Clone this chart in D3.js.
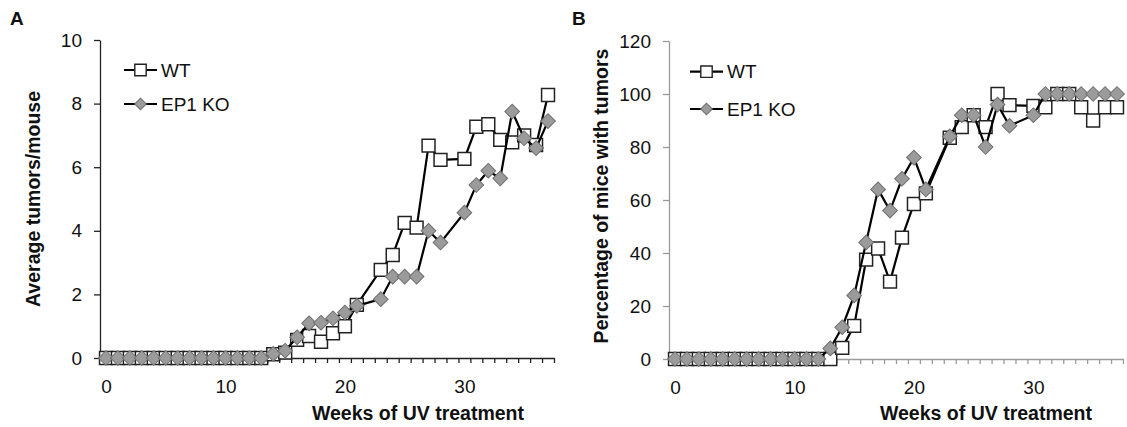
<!DOCTYPE html>
<html>
<head>
<meta charset="utf-8">
<script src="https://cdn.jsdelivr.net/npm/d3@7/dist/d3.min.js"></script>
<style>
  html, body { margin: 0; padding: 0; background: #fff; }
  svg { display: block; font-family: "Liberation Sans", Arial, sans-serif; }
</style>
</head>
<body>
<svg id="chart" width="1127" height="427"></svg>
<script>
// Weeks of UV exposure (categories on the x axis)
const weeks = [0,1,2,3,4,5,6,7,8,9,10,11,12,13,14,15,16,17,18,19,20,21,22,23,24,25,26,27,28,29,30,31,32,33,34,35,36,37];
const xTickLabels = [0, 10, 20, 30];

// Panel A: average tumors per mouse (null = no measurement that week)
const tumorsWT = [0,0,0,0,0,0,0,0,0,0,0,0,0,0,
  0.12,0.17,0.57,0.69,0.51,0.78,1.0,1.67,null,2.77,3.24,4.25,4.1,6.68,6.23,null,6.26,7.27,7.35,6.86,6.78,7.0,6.7,8.27];
const tumorsKO = [0,0,0,0,0,0,0,0,0,0,0,0,0,0,
  0.13,0.23,0.65,1.09,1.11,1.25,1.43,1.64,null,1.85,2.56,2.56,2.56,4.0,3.63,null,4.57,5.44,5.89,5.65,7.75,6.91,6.6,7.45];
const tumorTicks = [0, 2, 4, 6, 8, 10];

// Panel B: percentage of mice bearing tumors
const incidenceWT = [0,0,0,0,0,0,0,0,0,0,0,0,0,0,
  4.2,12.5,37.5,41.7,29.2,45.8,58.5,62.5,null,83.5,87.5,92,87.5,100,95.8,null,95.5,95,100,100,95,90,95,95];
const incidenceKO = [0,0,0,0,0,0,0,0,0,0,0,0,0,
  4,12,24,44,64,56,68,76,64,null,84,92,92,80,96,88,null,92,100,100,100,100,100,100,100];
const incidenceTicks = [0, 20, 40, 60, 80, 100, 120];

const seriesNames = ["WT", "EP1 KO"];

const svg = d3.select("#chart");
svg.append("rect").attr("width", 1127).attr("height", 427).attr("fill", "#fff");

const FONT = 19;
const TITLE_FONT = 19.5;

const squareSym = d3.symbol().type(d3.symbolSquare);
const diamondSym = d3.symbol().type(d3.symbolSquare);

function drawPanel(cfg) {
  const g = svg.append("g");
  const x = d3.scaleLinear().domain([-0.5, weeks.length - 0.5]).range([cfg.left, cfg.right]);
  const y = d3.scaleLinear().domain([0, cfg.yMax]).range([cfg.bottom, cfg.top]);

  // y axis
  const yAxis = g.append("g")
    .attr("transform", `translate(${cfg.left},0)`)
    .call(d3.axisLeft(y).tickValues(cfg.yTicks).tickSize(6).tickSizeOuter(0).tickPadding(12).tickFormat(d3.format("d")));
  yAxis.selectAll("path, line").attr("stroke", cfg.axisColor).attr("stroke-width", 1.3);
  yAxis.selectAll("text").attr("font-size", FONT).attr("fill", "#111").attr("font-family", "Liberation Sans, Arial, sans-serif");

  // x axis: ticks on category boundaries
  const bounds = weeks.map(w => w - 0.5).concat([weeks[weeks.length - 1] + 0.5]);
  const xAxis = g.append("g")
    .attr("transform", `translate(0,${cfg.bottom})`)
    .call(d3.axisBottom(x).tickValues(bounds).tickSize(5).tickSizeOuter(0).tickFormat(""));
  xAxis.selectAll("path, line").attr("stroke", cfg.axisColor).attr("stroke-width", 1.3);

  // x labels centred on categories
  const xLab = g.append("g")
    .attr("transform", `translate(0,${cfg.bottom})`)
    .call(d3.axisBottom(x).tickValues(xTickLabels).tickSize(0).tickPadding(22).tickFormat(d3.format("d")));
  xLab.select(".domain").remove();
  xLab.selectAll("text").attr("font-size", FONT).attr("fill", "#111").attr("font-family", "Liberation Sans, Arial, sans-serif");

  // axis titles
  g.append("text")
    .attr("x", (cfg.xTitleX)).attr("y", 420)
    .attr("text-anchor", "middle").attr("font-weight", "bold").attr("font-size", TITLE_FONT).attr("fill", "#111")
    .text("Weeks of UV treatment");
  g.append("text")
    .attr("transform", `translate(${cfg.yTitleX},${cfg.yTitleY}) rotate(-90)`)
    .attr("dy", "0.35em")
    .attr("text-anchor", "middle").attr("font-weight", "bold").attr("font-size", TITLE_FONT).attr("fill", "#111")
    .text(cfg.yTitle);

  // panel letter
  g.append("text").attr("x", cfg.letterX).attr("y", 25)
    .attr("font-weight", "bold").attr("font-size", 19).attr("fill", "#111").text(cfg.letter);

  const line = d3.line().x(d => x(d.w)).y(d => y(d.v));
  const pts = vals => weeks.map((w, i) => ({ w, v: vals[i] })).filter(d => d.v !== null);

  // WT series
  const wt = pts(cfg.wt);
  g.append("path").datum(wt).attr("d", line).attr("fill", "none").attr("stroke", "#000").attr("stroke-width", 2.2);
  g.append("g").selectAll("path").data(wt).join("path")
    .attr("d", squareSym.size(166)())
    .attr("transform", d => `translate(${x(d.w)},${y(d.v)})`)
    .attr("fill", "#fff").attr("stroke", "#222").attr("stroke-width", 1.5);

  // EP1 KO series
  const ko = pts(cfg.ko);
  g.append("path").datum(ko).attr("d", line).attr("fill", "none").attr("stroke", "#000").attr("stroke-width", 2.2);
  g.append("g").selectAll("path").data(ko).join("path")
    .attr("d", diamondSym.size(108)())
    .attr("transform", d => `translate(${x(d.w)},${y(d.v)}) rotate(45)`)
    .attr("fill", "#9b9b9b").attr("stroke", "#707070").attr("stroke-width", 1);

  // legend
  const lg = g.append("g");
  cfg.legendY.forEach((ly, i) => {
    lg.append("line").attr("x1", cfg.legendX).attr("x2", cfg.legendX + 33)
      .attr("y1", ly).attr("y2", ly).attr("stroke", "#000").attr("stroke-width", 2.2);
    if (i === 0) {
      lg.append("path").attr("d", squareSym.size(130)())
        .attr("transform", `translate(${cfg.legendX + 16.5},${ly})`)
        .attr("fill", "#fff").attr("stroke", "#222").attr("stroke-width", 1.4);
    } else {
      lg.append("path").attr("d", diamondSym.size(68)())
        .attr("transform", `translate(${cfg.legendX + 16.5},${ly}) rotate(45)`)
        .attr("fill", "#9b9b9b").attr("stroke", "#707070").attr("stroke-width", 1);
    }
    lg.append("text").attr("x", cfg.legendX + 37).attr("y", ly).attr("dy", "0.35em")
      .attr("font-size", FONT).attr("fill", "#111").text(seriesNames[i]);
  });
}

drawPanel({
  letter: "A", letterX: 10,
  left: 100, right: 554, top: 40, bottom: 358, yMax: 10, yTicks: tumorTicks,
  axisColor: "#222",
  wt: tumorsWT, ko: tumorsKO,
  yTitle: "Average tumors/mouse", yTitleX: 33, yTitleY: 199,
  xTitleX: 418,
  legendX: 124, legendY: [70, 104]
});

drawPanel({
  letter: "B", letterX: 572,
  left: 669, right: 1123, top: 41, bottom: 359, yMax: 120, yTicks: incidenceTicks,
  axisColor: "#9a9a9a",
  wt: incidenceWT, ko: incidenceKO,
  yTitle: "Percentage of mice with tumors", yTitleX: 601, yTitleY: 196,
  xTitleX: 986,
  legendX: 690, legendY: [71.7, 109]
});
</script>
</body>
</html>
